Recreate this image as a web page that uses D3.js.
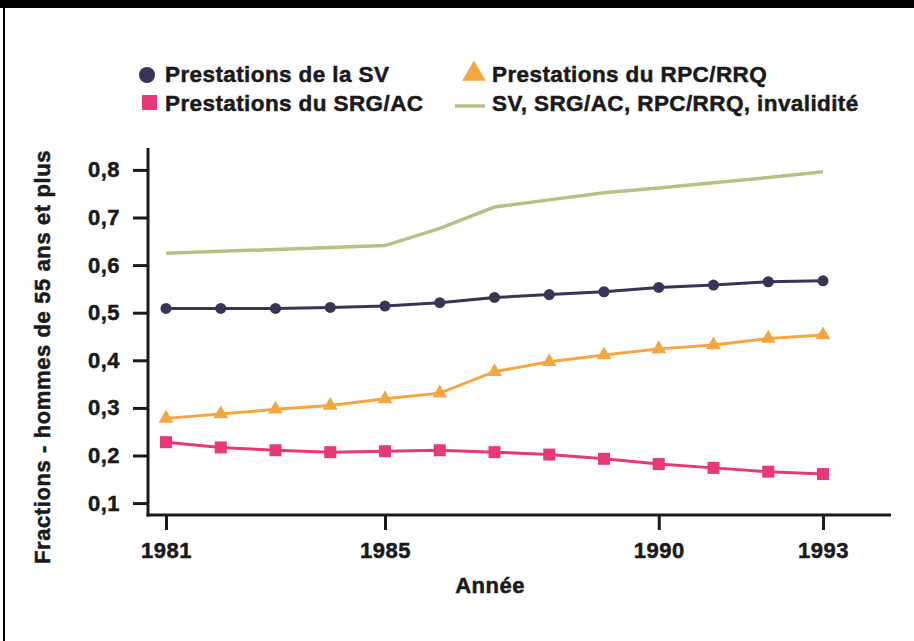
<!DOCTYPE html>
<html>
<head>
<meta charset="utf-8">
<script src="https://cdn.jsdelivr.net/npm/d3@7"></script>
<style>
  body { margin: 0; background: #fff; }
  text { font-family: "Liberation Sans", Arial, sans-serif; font-weight: bold; fill: #1a1a1a; stroke: #1a1a1a; stroke-width: 0.5px; }
</style>
</head>
<body>
<div id="chart"></div>
<script>
// Data
const years = [1981, 1982, 1983, 1984, 1985, 1986, 1987, 1988, 1989, 1990, 1991, 1992, 1993];
const sv = [0.509, 0.509, 0.509, 0.511, 0.514, 0.521, 0.532, 0.538, 0.544, 0.553, 0.558, 0.565, 0.567];
const rpc = [0.278, 0.287, 0.297, 0.305, 0.319, 0.331, 0.376, 0.397, 0.411, 0.424, 0.432, 0.446, 0.453];
const srg = [0.228, 0.217, 0.211, 0.207, 0.209, 0.211, 0.207, 0.202, 0.193, 0.182, 0.174, 0.166, 0.161];
const total = [0.625, 0.629, 0.633, 0.637, 0.641, 0.677, 0.722, 0.737, 0.752, 0.762, 0.773, 0.784, 0.796];
const xTicks = [1981, 1985, 1990, 1993];
const yTicks = [0.1, 0.2, 0.3, 0.4, 0.5, 0.6, 0.7, 0.8];

const W = 914, H = 641;
const colors = { sv: "#3b3256", rpc: "#f4a63f", srg: "#e9387a", total: "#b5c283" };

const svg = d3.select("#chart")
    .append("svg")
    .attr("width", W)
    .attr("height", H);

// frame: black band on top, thin line on the left
svg.append("rect").attr("x", 0).attr("y", 0).attr("width", W).attr("height", 8).attr("fill", "#000");
svg.append("line").attr("x1", 4).attr("x2", 4).attr("y1", 8).attr("y2", H)
    .attr("stroke", "#000").attr("stroke-width", 2);

// scales
const x = d3.scaleLinear().domain([1981, 1993]).range([166, 823]);
const y = d3.scaleLinear().domain([0.075, 0.846]).range([515, 148]);

const fmt = d => d3.format(".1f")(d).replace(".", ",");

// y axis
const yAxis = svg.append("g")
    .attr("transform", "translate(148,0)")
    .call(d3.axisLeft(y).tickValues(yTicks).tickFormat(fmt).tickSize(15).tickPadding(13));
// x axis
const xAxis = svg.append("g")
    .attr("transform", "translate(0,515)")
    .call(d3.axisBottom(x).tickValues(xTicks).tickFormat(d3.format("d")).tickSize(15).tickPadding(10));

[yAxis, xAxis].forEach(g => {
    g.select(".domain").remove();
    g.selectAll(".tick line").attr("stroke", "#1a1a1a").attr("stroke-width", 3);
    g.selectAll(".tick text")
        .style("font-size", "22px")
        .style("letter-spacing", "0.5px")
        .attr("fill", "#1a1a1a");
});
xAxis.selectAll(".tick text").attr("dy", "0.8em");

// axis lines
svg.append("line").attr("x1", 148).attr("x2", 148).attr("y1", 148).attr("y2", 516.5)
    .attr("stroke", "#1a1a1a").attr("stroke-width", 3);
svg.append("line").attr("x1", 146.5).attr("x2", 891).attr("y1", 515).attr("y2", 515)
    .attr("stroke", "#1a1a1a").attr("stroke-width", 3);

// axis titles
svg.append("text")
    .attr("transform", "translate(50,357) rotate(-90)")
    .attr("text-anchor", "middle")
    .style("font-size", "22px")
    .style("letter-spacing", "0.6px")
    .text("Fractions - hommes de 55 ans et plus");

svg.append("text")
    .attr("x", 490)
    .attr("y", 593)
    .attr("text-anchor", "middle")
    .style("font-size", "22px")
    .style("letter-spacing", "0.5px")
    .text("Année");

// lines
const line = d3.line().x((d, i) => x(years[i])).y(d => y(d));

svg.append("path").datum(total)
    .attr("fill", "none").attr("stroke", colors.total).attr("stroke-width", 3.5)
    .attr("d", line);

[["sv", sv], ["rpc", rpc], ["srg", srg]].forEach(([k, vals]) => {
    svg.append("path").datum(vals)
        .attr("fill", "none").attr("stroke", colors[k]).attr("stroke-width", 3)
        .attr("d", line);
});

// markers
svg.selectAll(".dot")
    .data(sv)
    .enter().append("circle")
    .attr("class", "dot")
    .attr("cx", (d, i) => x(years[i]))
    .attr("cy", d => y(d))
    .attr("r", 5.5)
    .attr("fill", colors.sv);

svg.selectAll(".sq")
    .data(srg)
    .enter().append("rect")
    .attr("class", "sq")
    .attr("x", (d, i) => x(years[i]) - 6)
    .attr("y", d => y(d) - 6)
    .attr("width", 12)
    .attr("height", 12)
    .attr("fill", colors.srg);

const tri = d3.symbol().type(d3.symbolTriangle).size(95);
svg.selectAll(".tri")
    .data(rpc)
    .enter().append("path")
    .attr("class", "tri")
    .attr("transform", (d, i) => `translate(${x(years[i])},${y(d)})`)
    .attr("d", tri)
    .attr("fill", colors.rpc);

// legend
const legend = svg.append("g");
legend.append("circle").attr("cx", 147).attr("cy", 75).attr("r", 8).attr("fill", colors.sv);
legend.append("rect").attr("x", 142).attr("y", 95).attr("width", 15).attr("height", 15).attr("fill", colors.srg);
legend.append("path")
    .attr("transform", "translate(474,74)")
    .attr("d", d3.symbol().type(d3.symbolTriangle).size(240))
    .attr("fill", colors.rpc);
legend.append("line").attr("x1", 455).attr("x2", 485).attr("y1", 106).attr("y2", 106)
    .attr("stroke", colors.total).attr("stroke-width", 3.5);

const legendItems = [
    { label: "Prestations de la SV", x: 165, y: 82 },
    { label: "Prestations du SRG/AC", x: 165, y: 111 },
    { label: "Prestations du RPC/RRQ", x: 492, y: 82 },
    { label: "SV, SRG/AC, RPC/RRQ, invalidité", x: 492, y: 111 }
];
legend.selectAll(".lt")
    .data(legendItems)
    .enter().append("text")
    .attr("class", "lt")
    .attr("x", d => d.x)
    .attr("y", d => d.y)
    .style("font-size", "22.5px")
    .style("letter-spacing", "0.4px")
    .text(d => d.label);
</script>
</body>
</html>
